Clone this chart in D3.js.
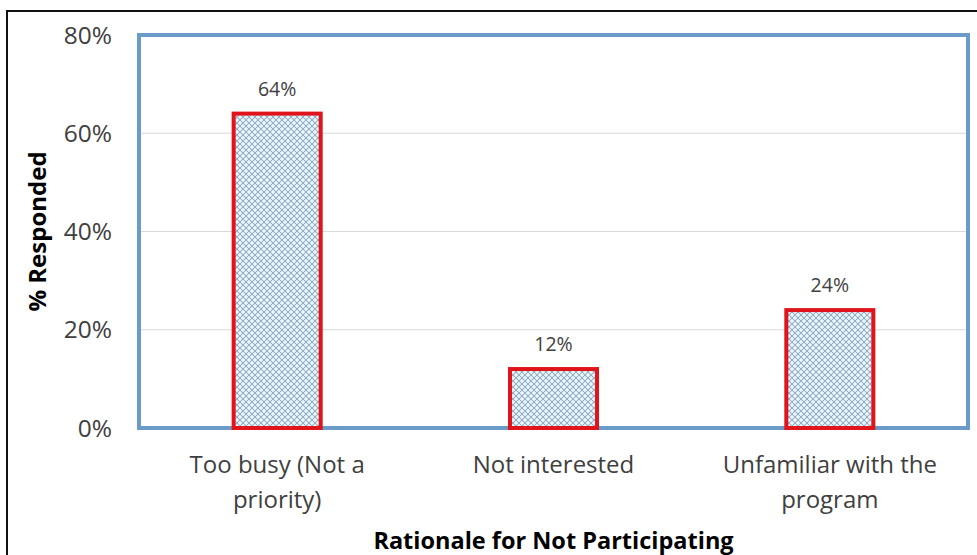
<!DOCTYPE html>
<html>
<head>
<meta charset="utf-8">
<script src="https://cdn.jsdelivr.net/npm/d3@7"></script>
<style>
  html, body { margin: 0; padding: 0; background: #fff; }
  svg { display: block; font-family: "Open Sans", Lato, sans-serif; }
</style>
</head>
<body>
<div id="chart"></div>
<script>
// Chart data.
const categories = [["Too busy (Not a", "priority)"], ["Not interested"], ["Unfamiliar with the", "program"]];
const values = [64, 12, 24];
const yTicks = [0, 20, 40, 60, 80];

const width = 977;
const height = 555;
const plot = {left: 139, right: 968, top: 35, bottom: 428};

const svg = d3.select("#chart")
    .append("svg")
    .attr("width", width)
    .attr("height", height)
    .attr("viewBox", [0, 0, width, height]);

// Cross-hatch fill used by the bars.
const pattern = svg.append("defs").append("pattern")
    .attr("id", "hatch")
    .attr("patternUnits", "userSpaceOnUse")
    .attr("width", 6)
    .attr("height", 6);
pattern.append("rect").attr("width", 6).attr("height", 6).attr("fill", "#d6e9f7");
pattern.append("path")
    .attr("d", "M0,0L6,6M6,0L0,6")
    .attr("stroke", "#97adc0")
    .attr("stroke-width", 1)
    .attr("fill", "none");
[[3, 0], [0, 3], [6, 3], [3, 6]].forEach(([cx, cy]) => {
    pattern.append("circle").attr("cx", cx).attr("cy", cy).attr("r", 1).attr("fill", "#f6fbff");
});

// Outer frame (runs off the right and bottom edges).
svg.append("rect")
    .attr("x", 7)
    .attr("y", 11)
    .attr("width", width + 20)
    .attr("height", height + 20)
    .attr("fill", "none")
    .attr("stroke", "#111")
    .attr("stroke-width", 2);

const x = d3.scaleBand()
    .domain(d3.range(categories.length))
    .range([plot.left, plot.right])
    .paddingInner(0.685)
    .paddingOuter(0.3425);

const y = d3.scaleLinear()
    .domain([0, 80])
    .range([plot.bottom, plot.top]);

// Gridlines.
svg.append("g")
    .selectAll("line")
    .data(yTicks.filter(d => d > 0 && d < 80))
    .join("line")
        .attr("x1", plot.left)
        .attr("x2", plot.right)
        .attr("y1", d => y(d))
        .attr("y2", d => y(d))
        .attr("stroke", "#d9d9d9")
        .attr("stroke-width", 1);

// Y tick labels.
svg.append("g")
    .attr("font-size", 24.5)
    .attr("fill", "#404040")
    .attr("text-anchor", "end")
    .selectAll("text")
    .data(yTicks)
    .join("text")
        .attr("x", 112)
        .attr("y", d => y(d))
        .attr("dy", "0.35em")
        .text(d => d + "%");

// Plot area border.
svg.append("rect")
    .attr("x", plot.left)
    .attr("y", plot.top)
    .attr("width", plot.right - plot.left)
    .attr("height", plot.bottom - plot.top)
    .attr("fill", "none")
    .attr("stroke", "#6b9bc9")
    .attr("stroke-width", 4);

// Bars.
svg.append("g")
    .selectAll("rect")
    .data(values)
    .join("rect")
        .attr("x", (d, i) => x(i))
        .attr("y", d => y(d))
        .attr("width", x.bandwidth())
        .attr("height", d => y(0) - y(d))
        .attr("fill", "url(#hatch)")
        .attr("stroke", "#e0141b")
        .attr("stroke-width", 4);

// Value labels.
svg.append("g")
    .attr("font-size", 19.5)
    .attr("fill", "#404040")
    .attr("text-anchor", "middle")
    .selectAll("text")
    .data(values)
    .join("text")
        .attr("x", (d, i) => x(i) + x.bandwidth() / 2)
        .attr("y", d => y(d) - 18)
        .text(d => d + "%");

// Category labels.
svg.append("g")
    .attr("font-size", 24)
    .attr("fill", "#404040")
    .attr("text-anchor", "middle")
    .selectAll("text")
    .data(categories)
    .join("text")
        .attr("x", (d, i) => x(i) + x.bandwidth() / 2)
        .attr("y", 473)
        .selectAll("tspan")
        .data(d => d)
        .join("tspan")
            .attr("x", function () { return this.parentNode.getAttribute("x"); })
            .attr("dy", (d, i) => i === 0 ? 0 : 35)
            .text(d => d);

// Axis titles.
svg.append("text")
    .attr("x", (plot.left + plot.right) / 2)
    .attr("y", 549)
    .attr("text-anchor", "middle")
    .attr("font-size", 23.5)
    .attr("font-weight", "bold")
    .attr("fill", "#000")
    .text("Rationale for Not Participating");

svg.append("text")
    .attr("transform", `translate(46,${(plot.top + plot.bottom) / 2}) rotate(-90)`)
    .attr("text-anchor", "middle")
    .attr("font-size", 24)
    .attr("font-weight", "bold")
    .attr("fill", "#000")
    .text("% Responded");
</script>
</body>
</html>
